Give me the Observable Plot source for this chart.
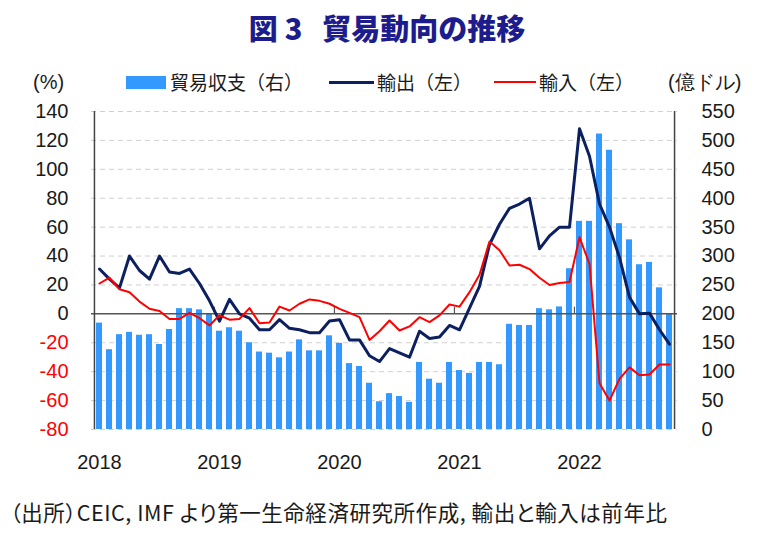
<!DOCTYPE html>
<html>
<head>
<meta charset="utf-8">
<script src="https://cdn.jsdelivr.net/npm/d3@7"></script>
<script src="https://cdn.jsdelivr.net/npm/@observablehq/plot@0.6"></script>
<style>
  html, body { margin: 0; padding: 0; background: #fff; }
  body { width: 774px; height: 537px; position: relative; overflow: hidden; font-family: "Noto Sans CJK JP", "Noto Sans", sans-serif; color: #1a1a1a; }
  #title { position: absolute; left: 0; top: 7px; width: 774px; text-align: center; font-size: 29px; font-weight: 900; color: #1c1c8c; line-height: 40px; white-space: nowrap; }
  .lg { position: absolute; line-height: 24px; top: 70px; font-size: 19px; white-space: nowrap; }
  .num { font-family: "Liberation Sans", Arial, sans-serif; font-size: 20px; }
  .sw { position: absolute; }
  #chart { position: absolute; left: 0; top: 100px; }
  #caption { position: absolute; left: 10px; top: 497px; font-size: 21.5px; line-height: 30px; white-space: nowrap; font-feature-settings: "palt"; letter-spacing: 0.55px; }
</style>
</head>
<body>
<div id="title"><span>図</span><span style="margin-left:7px">3</span><span style="margin-left:20px">貿易動向の推移</span></div>
<div class="lg num" style="left:33px;">(%)</div>
<div class="sw" style="left:126px;top:76px;width:40px;height:13px;background:#3399ff;"></div>
<div class="lg" style="left:170px;">貿易収支（右）</div>
<div class="sw" style="left:329px;top:81px;width:45px;height:3px;background:#0c2060;"></div>
<div class="lg" style="left:377px;">輸出（左）</div>
<div class="sw" style="left:494px;top:81px;width:42px;height:2px;background:#ff0000;"></div>
<div class="lg" style="left:539px;">輸入（左）</div>
<div class="lg num" style="left:668px;">(億ドル)</div>
<div id="chart"></div>
<div id="caption">（出所）CEIC, IMF より第一生命経済研究所作成, 輸出と輸入は前年比</div>
<script>
// Monthly data, Jan 2018 (index 0) to Oct 2022 (index 57)
const months = d3.range(58);

// 貿易収支 (億ドル, right axis)
const tradeBalance = [
  184, 138, 164, 168, 163, 164, 147, 173, 209, 209, 207, 199,
  170, 176, 170, 150, 134, 132, 124, 134, 155, 136, 136, 162,
  149, 114, 109, 80, 48, 62, 57, 47, 116, 87, 80, 116,
  102, 97, 116, 116, 112, 182, 180, 180, 209, 207, 212, 278,
  360, 360, 511, 483, 356, 328, 285, 289, 245, 199
];

// 輸出 (前年比 %, left axis)
const exportsYoY = [
  31, 24, 18, 40, 30, 24, 40, 29, 28, 31, 21, 9,
  -5, 10, 0, -3, -11, -11, -4, -10, -11, -13, -13, -5,
  -4, -18, -18, -29, -33, -24, -27, -30, -12, -17, -16, -8,
  -11, 4, 19, 48, 62, 73, 76, 80, 45, 54, 60, 60,
  128, 109, 76, 60, 39, 11.5, 0, 0.5, -11, -21
];

// 輸入 (前年比 %, left axis)
const importsYoY = [
  21, 25, 17, 15, 8.5, 3.5, 2, -3.5, -3.5, 0.7, -3, -8,
  -1, -4, -3.5, 4, -6.5, -6, 5, 2.3, 7, 10, 9, 7,
  3.5, 0.7, -2.3, -18, -12, -4.6, -11.5, -8.7, -2.3, -5.7, -1, 6.5,
  5, 15, 27, 50, 44, 33.5, 34, 31, 25, 20, 21.4, 22,
  53, 34.5, -48, -60, -45, -37, -42.5, -42, -35, -35
];

const leftTicks = d3.range(-80, 141, 20);
const rightTicks = d3.range(0, 551, 50);
const yearLabels = ["2018", "2019", "2020", "2021", "2022"];
const yearStartIndex = [0, 12, 24, 36, 48];

// right axis (0..550) mapped onto left axis (-80..140)
const leftMin = -80, leftMax = 140, rightMax = 550;
const toLeft = v => leftMin + v * (leftMax - leftMin) / rightMax;

const barData = months.map(i => ({i, v: tradeBalance[i]}));
const expData = months.map(i => ({i, v: exportsYoY[i]}));
const impData = months.map(i => ({i, v: importsYoY[i]}));
const yearData = yearLabels.map((t, k) => ({t, i: yearStartIndex[k]}));

const numFont = '"Liberation Sans", Arial, sans-serif';
const halfStep = (774 - 91 - 97) / 58 / 2;

const chart = Plot.plot({
  width: 774,
  height: 380,
  marginLeft: 91,
  marginRight: 97,
  marginTop: 11,
  marginBottom: 51,
  style: {fontFamily: numFont, fontSize: "20px", background: "transparent", overflow: "visible"},
  x: {type: "band", domain: months, paddingInner: 0.4, paddingOuter: 0.2, axis: null},
  y: {domain: [leftMin, leftMax], axis: null},
  marks: [
    Plot.ruleY(leftTicks.filter(d => d !== 0), {y: d => d, stroke: "#d0d0d0", strokeWidth: 1, strokeDasharray: "5,4"}),
    Plot.barY(barData, {x: "i", y1: leftMin, y2: d => toLeft(d.v), fill: "#3399ff"}),
    Plot.ruleY([0], {stroke: "#555", strokeWidth: 1.5}),
    Plot.ruleX(yearStartIndex.slice(1), {x: d => d, y1: 0, y2: 4.6, dx: -halfStep, stroke: "#555", strokeWidth: 1.2}),
    Plot.ruleX([months[0]], {x: d => d, y1: leftMin, y2: leftMax, dx: -halfStep, stroke: "#444", strokeWidth: 1.5}),
    Plot.ruleX([months[months.length - 1]], {x: d => d, y1: leftMin, y2: leftMax, dx: halfStep, stroke: "#444", strokeWidth: 1.5}),
    Plot.line(expData, {x: "i", y: "v", stroke: "#0c2060", strokeWidth: 3, strokeLinejoin: "round"}),
    Plot.line(impData, {x: "i", y: "v", stroke: "#ff0000", strokeWidth: 2, strokeLinejoin: "round"}),
    Plot.text(leftTicks, {y: d => d, text: d => String(d), frameAnchor: "left", dx: -23, textAnchor: "end",
      fill: d => d < 0 ? "#ff0000" : "#1a1a1a", fontSize: 20, fontFamily: numFont}),
    Plot.text(rightTicks, {y: d => toLeft(d), text: d => String(d), frameAnchor: "right", dx: 24, textAnchor: "start",
      fill: "#1a1a1a", fontSize: 20, fontFamily: numFont}),
    Plot.text(yearData, {x: "i", y: leftMin, dy: 33, text: "t", fill: "#1a1a1a", fontSize: 20, fontFamily: numFont})
  ]
});
document.getElementById("chart").appendChild(chart);
</script>
</body>
</html>
